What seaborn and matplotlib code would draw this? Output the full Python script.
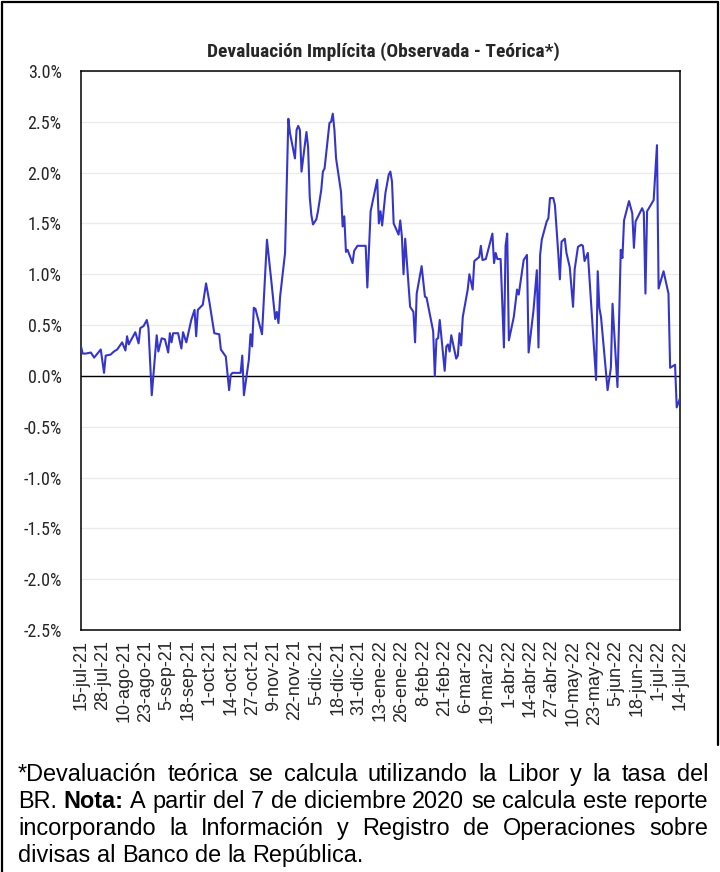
import matplotlib
matplotlib.use("Agg")
import matplotlib.pyplot as plt
from matplotlib import font_manager as fm
from matplotlib.lines import Line2D
from matplotlib.ticker import FixedLocator, FuncFormatter
import pandas as pd
import seaborn as sns

# ---------------------------------------------------------------- data
title = "Devaluación Implícita (Observada - Teórica*)"

dates = [
    "2021-07-15", "2021-07-16", "2021-07-18", "2021-07-21", "2021-07-23", "2021-07-27",
    "2021-07-29", "2021-07-30", "2021-08-02", "2021-08-04", "2021-08-06", "2021-08-09",
    "2021-08-11", "2021-08-12", "2021-08-13", "2021-08-17", "2021-08-19", "2021-08-20",
    "2021-08-22", "2021-08-24", "2021-08-25", "2021-08-27", "2021-08-30", "2021-08-31",
    "2021-09-02", "2021-09-04", "2021-09-06", "2021-09-07", "2021-09-08", "2021-09-09",
    "2021-09-12", "2021-09-14", "2021-09-15", "2021-09-17", "2021-09-20", "2021-09-22",
    "2021-09-23", "2021-09-24", "2021-09-27", "2021-09-29", "2021-10-01", "2021-10-04",
    "2021-10-07", "2021-10-08", "2021-10-11", "2021-10-13", "2021-10-14", "2021-10-15",
    "2021-10-20", "2021-10-21", "2021-10-22", "2021-10-25", "2021-10-26", "2021-10-27",
    "2021-10-28", "2021-10-29", "2021-11-02", "2021-11-05", "2021-11-08", "2021-11-10",
    "2021-11-11", "2021-11-12", "2021-11-13", "2021-11-16", "2021-11-18", "2021-11-19",
    "2021-11-22", "2021-11-23", "2021-11-24", "2021-11-25", "2021-11-26", "2021-11-29",
    "2021-11-30", "2021-12-01", "2021-12-02", "2021-12-03", "2021-12-05", "2021-12-06",
    "2021-12-08", "2021-12-09", "2021-12-10", "2021-12-13", "2021-12-14", "2021-12-15",
    "2021-12-16", "2021-12-17", "2021-12-20", "2021-12-21", "2021-12-22", "2021-12-23",
    "2021-12-24", "2021-12-27", "2021-12-28", "2021-12-30", "2022-01-04", "2022-01-05",
    "2022-01-07", "2022-01-11", "2022-01-12", "2022-01-13", "2022-01-14", "2022-01-16",
    "2022-01-18", "2022-01-19", "2022-01-20", "2022-01-21", "2022-01-24", "2022-01-25",
    "2022-01-26", "2022-01-27", "2022-01-28", "2022-01-31", "2022-02-02", "2022-02-03",
    "2022-02-04", "2022-02-07", "2022-02-09", "2022-02-10", "2022-02-14", "2022-02-15",
    "2022-02-16", "2022-02-17", "2022-02-18", "2022-02-21", "2022-02-22", "2022-02-23",
    "2022-02-24", "2022-02-25", "2022-02-28", "2022-03-01", "2022-03-02", "2022-03-03",
    "2022-03-04", "2022-03-07", "2022-03-08", "2022-03-10", "2022-03-11", "2022-03-14",
    "2022-03-15", "2022-03-16", "2022-03-18", "2022-03-21", "2022-03-22", "2022-03-23",
    "2022-03-24", "2022-03-25", "2022-03-27", "2022-03-29", "2022-03-30", "2022-03-31",
    "2022-04-01", "2022-04-04", "2022-04-06", "2022-04-07", "2022-04-10", "2022-04-12",
    "2022-04-13", "2022-04-16", "2022-04-18", "2022-04-19", "2022-04-20", "2022-04-21",
    "2022-04-24", "2022-04-25", "2022-04-26", "2022-04-28", "2022-04-29", "2022-05-01",
    "2022-05-02", "2022-05-03", "2022-05-05", "2022-05-06", "2022-05-08", "2022-05-10",
    "2022-05-11", "2022-05-13", "2022-05-15", "2022-05-16", "2022-05-17", "2022-05-19",
    "2022-05-24", "2022-05-25", "2022-05-26", "2022-05-27", "2022-05-31", "2022-06-02",
    "2022-06-03", "2022-06-06", "2022-06-08", "2022-06-09", "2022-06-10", "2022-06-13",
    "2022-06-15", "2022-06-16", "2022-06-17", "2022-06-21", "2022-06-22", "2022-06-23",
    "2022-06-24", "2022-06-28", "2022-06-30", "2022-07-01", "2022-07-04", "2022-07-07",
    "2022-07-08", "2022-07-11", "2022-07-12", "2022-07-14",
]

devaluacion = [
    0.29, 0.22, 0.22, 0.23, 0.18, 0.26,
    0.03, 0.20, 0.21, 0.24, 0.26, 0.33,
    0.25, 0.39, 0.31, 0.43, 0.32, 0.47,
    0.49, 0.55, 0.47, -0.19, 0.40, 0.24,
    0.37, 0.36, 0.23, 0.42, 0.33, 0.42,
    0.42, 0.27, 0.43, 0.33, 0.55, 0.65,
    0.39, 0.65, 0.70, 0.91, 0.73, 0.42,
    0.41, 0.26, 0.19, -0.14, 0.01, 0.03,
    0.03, 0.20, -0.19, 0.16, 0.41, 0.29,
    0.67, 0.66, 0.41, 1.34, 0.88, 0.56,
    0.63, 0.52, 0.78, 1.21, 2.53, 2.39,
    2.14, 2.42, 2.46, 2.42, 2.01, 2.40,
    2.25, 1.76, 1.58, 1.49, 1.54, 1.62,
    1.83, 2.01, 2.04, 2.49, 2.50, 2.58,
    2.42, 2.14, 1.81, 1.47, 1.57, 1.22,
    1.24, 1.11, 1.23, 1.28, 1.28, 0.87,
    1.62, 1.93, 1.50, 1.62, 1.48, 1.80,
    1.98, 2.01, 1.91, 1.50, 1.39, 1.53,
    1.37, 1.00, 1.35, 0.68, 0.63, 0.33,
    0.81, 1.08, 0.78, 0.77, 0.44, 0.00,
    0.36, 0.37, 0.55, 0.05, 0.29, 0.31,
    0.24, 0.40, 0.17, 0.20, 0.42, 0.30,
    0.58, 0.85, 1.00, 0.85, 1.13, 1.17,
    1.28, 1.14, 1.15, 1.34, 1.40, 1.11,
    1.21, 1.15, 1.15, 0.28, 1.28, 1.40,
    0.35, 0.58, 0.85, 0.80, 1.14, 1.19,
    0.23, 0.65, 1.04, 0.28, 1.19, 1.34,
    1.52, 1.55, 1.75, 1.75, 1.68, 1.21,
    0.95, 1.32, 1.35, 1.21, 1.07, 0.68,
    1.05, 1.27, 1.29, 1.28, 1.13, 1.21,
    -0.04, 1.03, 0.67, 0.58, -0.14, 0.08,
    0.71, -0.11, 1.24, 1.16, 1.53, 1.72,
    1.60, 1.26, 1.52, 1.65, 1.61, 0.81,
    1.62, 1.73, 2.27, 0.86, 1.03, 0.81,
    0.08, 0.11, -0.31, -0.22,
]

tick_labels = [
    "15-jul-21", "28-jul-21", "10-ago-21", "23-ago-21", "5-sep-21", "18-sep-21",
    "1-oct-21", "14-oct-21", "27-oct-21", "9-nov-21", "22-nov-21", "5-dic-21",
    "18-dic-21", "31-dic-21", "13-ene-22", "26-ene-22", "8-feb-22", "21-feb-22",
    "6-mar-22", "19-mar-22", "1-abr-22", "14-abr-22", "27-abr-22", "10-may-22",
    "23-may-22", "5-jun-22", "18-jun-22", "1-jul-22", "14-jul-22",
]
y_ticks = [3.0, 2.5, 2.0, 1.5, 1.0, 0.5, 0.0, -0.5, -1.0, -1.5, -2.0, -2.5]

note_lines = [
    [("*Devaluación", "normal"), ("teórica", "normal"), ("se", "normal"), ("calcula", "normal"),
     ("utilizando", "normal"), ("la", "normal"), ("Libor", "normal"), ("y", "normal"),
     ("la", "normal"), ("tasa", "normal"), ("del", "normal")],
    [("BR.", "normal"), ("Nota:", "bold"), ("A", "normal"), ("partir", "normal"), ("del", "normal"),
     ("7", "normal"), ("de", "normal"), ("diciembre", "normal"), ("2020", "normal"), ("se", "normal"),
     ("calcula", "normal"), ("este", "normal"), ("reporte", "normal")],
    [("incorporando", "normal"), ("la", "normal"), ("Información", "normal"), ("y", "normal"),
     ("Registro", "normal"), ("de", "normal"), ("Operaciones", "normal"), ("sobre", "normal")],
    [("divisas", "normal"), ("al", "normal"), ("Banco", "normal"), ("de", "normal"),
     ("la", "normal"), ("República.", "normal")],
]

MESES = {"ene": 1, "feb": 2, "mar": 3, "abr": 4, "may": 5, "jun": 6,
         "jul": 7, "ago": 8, "sep": 9, "oct": 10, "nov": 11, "dic": 12}


def parse_label(lbl):
    d, m, y = lbl.split("-")
    return pd.Timestamp(year=2000 + int(y), month=MESES[m], day=int(d))


def has_font(name):
    try:
        fm.findfont(fm.FontProperties(family=name), fallback_to_default=False)
        return True
    except Exception:
        return False


def _weight(w):
    if isinstance(w, str):
        return fm.weight_dict.get(w, 400)
    return int(w)


def narrow_font(bold):
    """Return FontProperties for an installed narrow sans face, or None."""
    want = 700 if bold else 400
    entries = [f for f in fm.fontManager.ttflist if f.style == "normal"]
    preferred = ["Liberation Sans Narrow", "Arial Narrow", "Roboto Condensed",
                 "Open Sans Condensed", "Noto Sans Condensed"]
    for name in preferred:
        for f in entries:
            if f.name == name and abs(_weight(f.weight) - want) <= 100:
                return fm.FontProperties(fname=f.fname)
    for fam in ["Roboto", "Open Sans", "Noto Sans", "Inter", "Lato"]:
        for f in entries:
            if f.name == fam and f.stretch in ("condensed", "semi-condensed", 300, 400) \
                    and abs(_weight(f.weight) - want) <= 100:
                return fm.FontProperties(fname=f.fname)
    return None


# ---------------------------------------------------------------- style
sns.set_theme(style="white")
REGULAR = "Liberation Sans" if has_font("Liberation Sans") else "DejaVu Sans"
plt.rcParams["font.family"] = [REGULAR, "DejaVu Sans"]

narrow_bold = narrow_font(True)
narrow_reg = narrow_font(False)

W, H = 720, 872
fig = plt.figure(figsize=(W / 100, H / 100), dpi=100)
fig.patch.set_facecolor("white")

ax_l, ax_r, ax_t, ax_b = 81, 680, 71, 630
ax = fig.add_axes([ax_l / W, 1 - ax_b / H, (ax_r - ax_l) / W, (ax_b - ax_t) / H])

df = pd.DataFrame({"fecha": pd.to_datetime(dates), "valor": devaluacion})
sns.lineplot(data=df, x="fecha", y="valor", ax=ax, color="#3535CC", linewidth=1.5,
             estimator=None, zorder=3)

ax.set_xlim(parse_label(tick_labels[0]), parse_label(tick_labels[-1]))
ax.set_ylim(-2.5, 3.0)

ax.yaxis.set_major_locator(FixedLocator(y_ticks))
ax.yaxis.set_major_formatter(FuncFormatter(lambda v, _: f"{v:.1f}%"))
ax.grid(axis="y", color="#ebebeb", linewidth=1.0, zorder=0)
ax.grid(axis="x", visible=False)
ax.axhline(0, color="black", linewidth=1.0, zorder=2)

ax.set_xticks([parse_label(t) for t in tick_labels])
ax.set_xticklabels(tick_labels, rotation=90, ha="center", va="top",
                   fontsize=13, family=[REGULAR, "DejaVu Sans"])
for lbl in ax.get_yticklabels():
    if narrow_reg is not None:
        lbl.set_fontproperties(narrow_reg)
        lbl.set_fontsize(13)
    else:
        lbl.set_family([REGULAR, "DejaVu Sans"])
        lbl.set_fontsize(11.5)
ax.tick_params(axis="both", length=0)
ax.tick_params(axis="y", pad=14)
ax.tick_params(axis="x", pad=7)
ax.set_xlabel("")
ax.set_ylabel("")
for sp in ax.spines.values():
    sp.set_color("black")
    sp.set_linewidth(1.1)
    sp.set_visible(True)

fig.canvas.draw()
renderer = fig.canvas.get_renderer()

# title, sized to its printed width
if narrow_bold is not None:
    t = fig.text(383 / W, 1 - 52 / H, title, ha="center", va="center",
                 fontproperties=narrow_bold)
    t.set_fontsize(11)
else:
    t = fig.text(383 / W, 1 - 52 / H, title, ha="center", va="center",
                 fontsize=11, fontweight="bold", family=[REGULAR, "DejaVu Sans"])
t.set_fontsize(t.get_fontsize() * 350 / t.get_window_extent(renderer).width)

# outer frame
frame_kw = dict(color="black", linewidth=1.6, transform=fig.transFigure)
fig.add_artist(Line2D([2 / W, 2 / W], [0, 1 - 2 / H], **frame_kw))
fig.add_artist(Line2D([2 / W, 718 / W], [1 - 2 / H, 1 - 2 / H], **frame_kw))
fig.add_artist(Line2D([718 / W, 718 / W], [1 - 2 / H, 1 - 745 / H], **frame_kw))

# footnote, justified between the margins
x0, x1 = 18, 708
probe = fig.text(0, 0, "divisas al Banco de la República.", fontsize=12, family=REGULAR)
note_size = 12 * 346 / probe.get_window_extent(renderer).width
probe.remove()
sp_a = fig.text(0, 0, "x x", fontsize=note_size, family=REGULAR)
sp_b = fig.text(0, 0, "xx", fontsize=note_size, family=REGULAR)
space_w = sp_a.get_window_extent(renderer).width - sp_b.get_window_extent(renderer).width
sp_a.remove()
sp_b.remove()

baselines = [781, 808, 835, 862]
for i, (words, yb) in enumerate(zip(note_lines, baselines)):
    arts = [fig.text(0, 1 - yb / H, w, fontsize=note_size, fontweight=wt,
                     family=REGULAR, ha="left", va="baseline", color="black")
            for w, wt in words]
    widths = [a.get_window_extent(renderer).width for a in arts]
    last = i == len(note_lines) - 1
    gap = space_w if last else (x1 - x0 - sum(widths)) / (len(words) - 1)
    x = x0
    for a, wd in zip(arts, widths):
        a.set_x(x / W)
        x += wd + gap

fig.savefig("out.png", dpi=100, facecolor="white")
